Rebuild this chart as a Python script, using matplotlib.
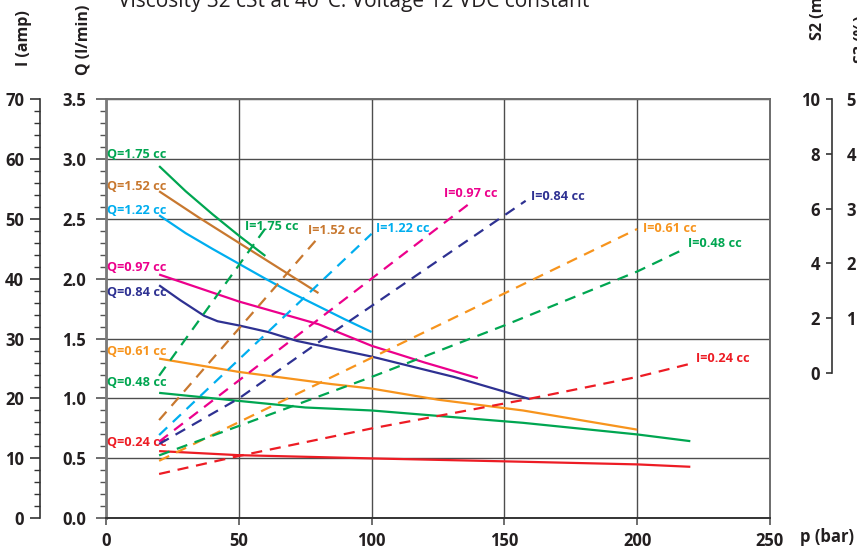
import matplotlib
matplotlib.use('Agg')
import matplotlib.pyplot as plt
from matplotlib.ticker import MultipleLocator

plt.rcParams['font.family'] = ['Open Sans', 'DejaVu Sans']

# flow Q (l/min) against pressure p (bar), solid lines
p_q175 = [20, 30, 40, 50, 60]
q_q175 = [2.94, 2.73, 2.54, 2.36, 2.19]
p_q152 = [20, 35, 50, 65, 80]
q_q152 = [2.73, 2.51, 2.30, 2.09, 1.88]
p_q122 = [20, 30, 40, 50, 60, 70, 80, 90, 100]
q_q122 = [2.53, 2.38, 2.25, 2.125, 2.0, 1.88, 1.77, 1.66, 1.555]
p_q097 = [20, 50, 80, 100, 120, 140]
q_q097 = [2.035, 1.81, 1.62, 1.44, 1.30, 1.17]
p_q084 = [20, 28, 37, 42, 50, 61, 72, 85, 100, 131, 159.6]
q_q084 = [1.945, 1.82, 1.69, 1.645, 1.61, 1.555, 1.48, 1.42, 1.35, 1.18, 0.995]
p_q061 = [20, 50, 85, 100, 125, 157, 200]
q_q061 = [1.333, 1.222, 1.12, 1.083, 0.99, 0.90, 0.74]
p_q048 = [20, 50, 75, 100, 157, 200, 220]
q_q048 = [1.047, 0.98, 0.925, 0.90, 0.797, 0.70, 0.644]
p_q024 = [20, 50, 100, 157, 200, 220]
q_q024 = [0.561, 0.527, 0.50, 0.472, 0.45, 0.43]

# current I (amp) against pressure p (bar), dashed lines
p_i175 = [20, 60]
i_i175 = [23.8, 48.4]
p_i152 = [20, 80]
i_i152 = [16.4, 46.9]
p_i122 = [20, 100]
i_i122 = [13.9, 47.5]
p_i097 = [20, 137]
i_i097 = [12.8, 52.6]
p_i084 = [20, 50, 82, 158]
i_i084 = [12.4, 20.0, 30.0, 53.0]
p_i061 = [20, 200]
i_i061 = [9.6, 48.3]
p_i048 = [20, 100, 150, 200, 217]
i_i048 = [10.5, 23.6, 32.2, 41.2, 44.8]
p_i024 = [20, 50, 100, 160, 200, 220]
i_i024 = [7.4, 10.4, 15.0, 20.0, 23.6, 25.8]

sizes = ['1.75', '1.52', '1.22', '0.97', '0.84', '0.61', '0.48', '0.24']
colors = ['#00a651', '#c8782f', '#00aeef', '#ec008c', '#2e3192', '#f7941d', '#00a651', '#ed1c24']

q_series = [(p_q175, q_q175), (p_q152, q_q152), (p_q122, q_q122), (p_q097, q_q097),
            (p_q084, q_q084), (p_q061, q_q061), (p_q048, q_q048), (p_q024, q_q024)]
i_series = [(p_i175, i_i175), (p_i152, i_i152), (p_i122, i_i122), (p_i097, i_i097),
            (p_i084, i_i084), (p_i061, i_i061), (p_i048, i_i048), (p_i024, i_i024)]

W, H = 857, 553
dark = '#231f20'
fig = plt.figure(figsize=(W / 100, H / 100), dpi=100)

ax = fig.add_axes([106 / W, (H - 518.3) / H, 664 / W, 419.3 / H])
ax.set_xlim(0, 250)
ax.set_ylim(0, 3.5)
ax.set_xticks(range(0, 251, 50))
ax.yaxis.set_major_locator(MultipleLocator(0.5))
ax.yaxis.set_minor_locator(MultipleLocator(0.1))
ax.yaxis.set_major_formatter(lambda v, pos: f'{v:.1f}')
ax.grid(True, which='major', color='#4d4d4d', lw=1.0)
for s in ax.spines.values():
    s.set_color('#6d6d6d')
    s.set_linewidth(1.4)
ax.spines['bottom'].set_color('#333333')
ax.spines['left'].set_linewidth(2.0)
ax.spines['left'].set_color('#7a7a7a')
ax.tick_params(axis='y', which='major', direction='out', length=7, width=1.2,
               color='#555555', labelsize=12, pad=7.5, labelcolor=dark)
ax.tick_params(axis='y', which='minor', direction='out', length=4, width=1.0, color='#555555')
ax.tick_params(axis='x', direction='out', length=5, width=1.2, color='#555555',
               labelsize=12, pad=5, labelcolor=dark)
for lab in ax.get_xticklabels() + ax.get_yticklabels():
    lab.set_fontweight('bold')

for (px, qy), c in zip(q_series, colors):
    ax.plot(px, qy, color=c, lw=1.6, solid_capstyle='butt', zorder=3)

# current axis on the far left
ax_i = ax.twinx()
ax_i.set_ylim(0, 70)
ax_i.yaxis.set_ticks_position('left')
ax_i.spines['left'].set_position(('axes', -66 / 664))
for k in ['right', 'top', 'bottom']:
    ax_i.spines[k].set_visible(False)
ax_i.spines['left'].set_color('#333333')
ax_i.spines['left'].set_linewidth(1.2)
ax_i.yaxis.set_major_locator(MultipleLocator(10))
ax_i.yaxis.set_minor_locator(MultipleLocator(2))
ax_i.tick_params(axis='y', which='major', direction='out', length=7, width=1.2,
                 color='#333333', labelsize=12, pad=4.5, labelcolor=dark)
ax_i.tick_params(axis='y', which='minor', direction='out', length=4, width=1.0, color='#333333')
for lab in ax_i.get_yticklabels():
    lab.set_fontweight('bold')

for (px, iy), c in zip(i_series, colors):
    ax_i.plot(px, iy, color=c, lw=1.6, dashes=(5, 3.5), zorder=3)

# curve labels (Q units on the main axes)
q_lab_y = [3.04, 2.77, 2.57, 2.09, 1.885, 1.395, 1.13, 0.63]
for sz, c, y in zip(sizes, colors, q_lab_y):
    ax.text(0.5, y, f'Q={sz} cc', color=c, fontsize=9.2, fontweight='bold',
            ha='left', va='center', zorder=5)
i_lab_xy = [(52.2, 2.435), (76, 2.40), (101.7, 2.42), (127.4, 2.71),
            (160, 2.69), (202, 2.42), (219, 2.29), (222, 1.33)]
for sz, c, (x, y) in zip(sizes, colors, i_lab_xy):
    ax.text(x, y, f'I={sz} cc', color=c, fontsize=9.2, fontweight='bold',
            ha='left', va='center', zorder=5)

# S2 / S3 axis on the right
ax_s = fig.add_axes([832 / W, (H - 373) / H, 0.0005, 274 / H])
ax_s.patch.set_visible(False)
for k in ['right', 'top', 'bottom']:
    ax_s.spines[k].set_visible(False)
ax_s.spines['left'].set_color('#333333')
ax_s.spines['left'].set_linewidth(1.2)
ax_s.set_ylim(0, 10)
ax_s.set_yticks(range(0, 11, 2))
ax_s.set_xticks([])
ax_s.tick_params(axis='y', direction='out', length=4, width=1.2, color='#333333',
                 labelsize=12, pad=4.5, labelcolor=dark)
for lab in ax_s.get_yticklabels():
    lab.set_fontweight('bold')
ax_s3 = ax_s.twinx()
for s in ax_s3.spines.values():
    s.set_visible(False)
ax_s3.set_ylim(0, 5)
ax_s3.set_yticks([1, 2, 3, 4, 5])
ax_s3.tick_params(axis='y', length=0, labelsize=12, pad=10, labelcolor=dark)
for lab in ax_s3.get_yticklabels():
    lab.set_fontweight('bold')

# axis titles and heading
fig.text(24 / W, 1 - 38 / H, 'I (amp)', rotation=90, ha='center', va='center',
         fontsize=11.5, fontweight='bold', color=dark)
fig.text(83 / W, 1 - 75 / H, 'Q (l/min)', rotation=90, ha='center', va='bottom',
         fontsize=11.5, fontweight='bold', color=dark)
fig.text(818 / W, 1 - 40 / H, 'S2 (min)', rotation=90, ha='center', va='bottom',
         fontsize=11.5, fontweight='bold', color=dark)
fig.text(862 / W, 1 - 63 / H, 'S3 (%)', rotation=90, ha='center', va='bottom',
         fontsize=11.5, fontweight='bold', color=dark)
fig.text(800 / W, 1 - 537 / H, 'p (bar)', ha='left', va='center',
         fontsize=12, fontweight='bold', color=dark)
fig.text(118 / W, 1 - 6.5 / H, 'Viscosity 32 cSt at 40°C. Voltage 12 VDC constant',
         ha='left', va='baseline', fontsize=15, color=dark)

fig.savefig('out.png', dpi=100)
